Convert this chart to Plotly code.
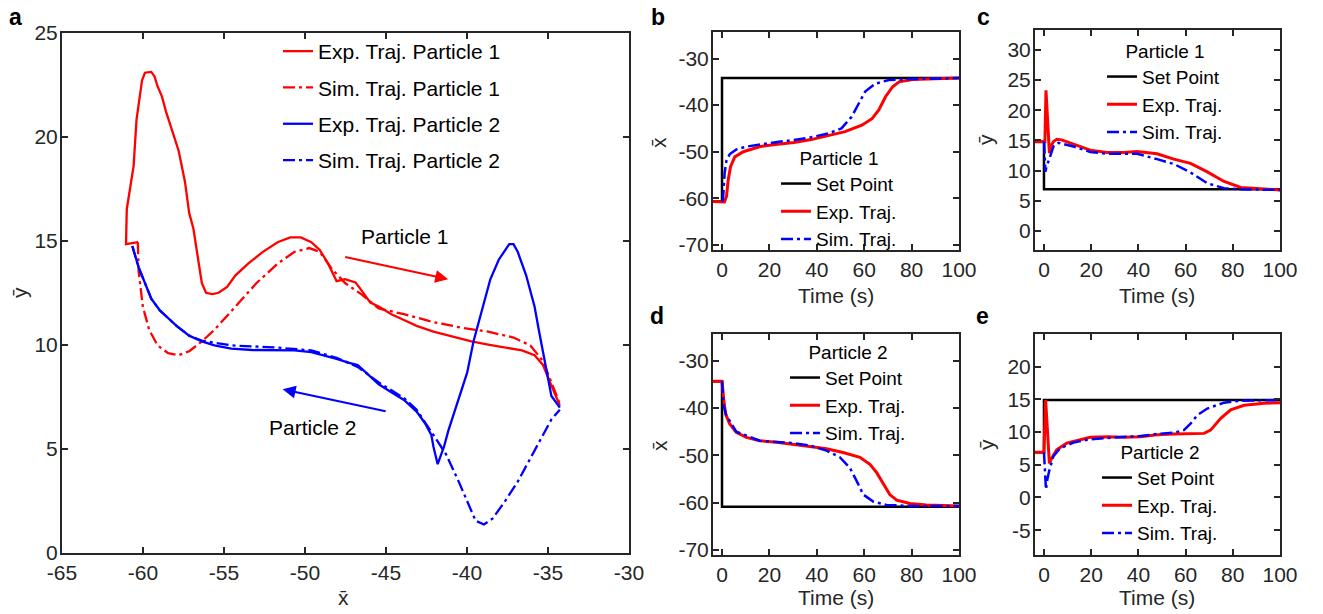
import plotly.graph_objects as go

FONT = "Liberation Sans, Arial, Helvetica, sans-serif"
W, H = 1323, 614
OFF = 8                      # the page body margin offsets the figure by 8 px
WF, HF = W - OFF, H - OFF    # figure size that fits the window
RED = "#ff0000"
BLUE = "#0000ff"
AXC = "#262626"
DASHDOT = "12px,4px,3px,4px"

# ---------------- Panel a : trajectories in the (x̄, ȳ) plane ----------------
exp_p1_x = [-60.3, -61.05, -61.0, -60.79, -60.58, -60.40, -60.06, -59.88, -59.49, -59.28, -59.10, -58.84,
            -58.58, -58.19, -57.80, -57.41, -57.15, -56.89, -56.63, -56.37, -56.11, -55.72, -55.33,
            -54.81, -54.29, -53.51, -52.60, -51.69, -50.91, -50.26, -49.61, -49.09, -48.57, -48.05,
            -47.53, -46.88, -46.49, -45.97, -45.45, -44.67, -43.89, -43.11, -42.07, -40.77, -39.73,
            -38.69, -37.65, -36.61, -35.83, -35.31, -34.92, -34.53, -34.27]
exp_p1_y = [14.95, 14.85, 16.54, 17.47, 18.60, 20.84, 22.72, 23.09, 23.13, 22.90, 22.43, 21.97,
            21.22, 20.28, 19.34, 17.85, 16.35, 15.60, 14.29, 12.98, 12.51, 12.45, 12.51,
            12.79, 13.35, 13.91, 14.48, 14.94, 15.17, 15.17, 14.94, 14.57, 13.91, 13.07,
            13.16, 13.01, 12.60, 12.04, 11.85, 11.48, 11.20, 10.92, 10.64, 10.36, 10.17,
            10.02, 9.89, 9.74, 9.51, 9.04, 8.30, 7.55, 7.08]

sim_p1_x = [-60.32, -60.27, -60.01, -59.62, -59.10, -58.45, -57.80, -57.15, -56.37, -55.59, -54.29,
            -52.99, -51.69, -50.65, -49.74, -49.09, -48.31, -47.53, -46.49, -45.45, -43.89, -42.07,
            -40.25, -38.69, -37.13, -36.09, -35.31, -34.79, -34.27]
sim_p1_y = [14.94, 13.54, 11.85, 10.73, 9.98, 9.61, 9.51, 9.70, 10.17, 10.73, 11.85,
            12.98, 13.91, 14.48, 14.66, 14.48, 13.63, 12.98, 12.42, 11.76, 11.48, 11.10,
            10.82, 10.64, 10.36, 9.98, 9.23, 8.20, 7.17]

exp_p2_x = [-60.66, -60.27, -59.88, -59.49, -58.97, -58.45, -57.93, -57.15, -56.37, -55.59, -54.55,
            -53.25, -51.95, -50.65, -49.61, -48.83, -48.05, -47.27, -46.75, -46.23, -45.45, -44.67,
            -43.89, -43.11, -42.59, -42.20, -42.07, -41.81, -41.42, -41.16, -40.77, -40.38, -39.99,
            -39.60, -39.08, -38.56, -38.04, -37.39, -37.13, -36.87, -36.35, -35.83, -35.57, -35.31,
            -35.05, -34.79, -34.27]
exp_p2_y = [14.76, 13.73, 12.98, 12.23, 11.67, 11.29, 10.92, 10.45, 10.17, 9.98, 9.83,
            9.76, 9.74, 9.74, 9.66, 9.51, 9.33, 9.14, 9.04, 8.67, 8.11, 7.73,
            7.36, 6.80, 6.24, 5.67, 5.11, 4.27, 5.11, 5.86, 6.80, 7.73, 8.67,
            10.17, 11.67, 13.16, 14.10, 14.85, 14.85, 14.48, 13.35, 11.85, 10.73, 9.61,
            8.48, 7.55, 6.99]

sim_p2_x = [-60.66, -60.27, -59.88, -59.49, -58.97, -58.45, -57.93, -57.15, -56.37, -54.55, -51.95,
            -49.61, -48.05, -46.75, -45.45, -43.89, -43.11, -42.07, -41.29, -40.51, -39.99, -39.47,
            -38.95, -38.43, -37.65, -36.87, -36.09, -35.31, -34.79, -34.27]
sim_p2_y = [14.76, 13.73, 12.98, 12.23, 11.67, 11.29, 10.92, 10.45, 10.21, 9.98, 9.89,
            9.74, 9.38, 8.95, 8.20, 7.45, 6.89, 5.67, 4.74, 3.43, 2.49, 1.55,
            1.37, 1.65, 2.49, 3.43, 4.55, 5.67, 6.42, 6.89]

# ---------------- Panel b : Particle 1, x̄ vs time ----------------
b_sp_t = [-5, 0, 0, 100]
b_sp = [-60.7, -60.7, -34.2, -34.2]
b_exp_t = [-3.8, 0, 1.0, 1.9, 2.6, 3.6, 5.4, 9, 16.1, 23.3, 30.4, 37.6, 44.7, 51.9, 59, 63.3, 66.1,
           69, 71.9, 74.7, 80.4, 87.6, 100]
b_exp = [-60.7, -60.7, -60.8, -59.6, -56.1, -53.2, -51.1, -50.0, -48.9, -48.4, -48.0, -47.4, -46.6,
         -45.7, -44.3, -42.9, -41.1, -38.2, -36.1, -35.0, -34.5, -34.4, -34.2]
b_sim_t = [0, 0.4, 1.1, 1.9, 3.3, 6.1, 10.4, 16.1, 23.3, 30.4, 37.6, 44.7, 50.4, 54.7, 57.6, 60.4,
           64.7, 70.4, 80.4, 100]
b_sim = [-60.7, -60.4, -54.6, -51.8, -50.5, -49.5, -48.9, -48.4, -47.9, -47.5, -46.9, -46.1, -45.0,
         -42.5, -39.6, -37.1, -35.4, -34.6, -34.4, -34.2]

# ---------------- Panel c : Particle 1, ȳ vs time ----------------
c_sp_t = [-5, 0, 0, 100]
c_sp = [14.8, 14.8, 6.9, 6.9]
c_exp_t = [-3.8, 0, 0.4, 0.85, 1.4, 2.3, 2.8, 4, 5.4, 7.5, 12.5, 19.6, 26.7, 33.8, 39.4, 47.9, 55,
           62.1, 69.2, 76.3, 83.4, 90.5, 100]
c_exp = [14.8, 14.8, 14.8, 23.3, 19.0, 12.9, 14.0, 14.8, 15.2, 15.1, 14.4, 13.4, 13.0, 13.0, 13.15,
         12.8, 11.9, 11.2, 9.8, 8.2, 7.2, 7.0, 6.8]
c_sim_t = [0, 0.1, 0.6, 1.1, 2.3, 4, 6.1, 12.5, 19.6, 26.7, 33.8, 39.4, 47.9, 55, 62.1, 69.2, 76.3,
           83.4, 100]
c_sim = [14.8, 14.5, 9.8, 10.7, 12.0, 14.0, 14.6, 14.0, 13.1, 12.8, 12.8, 12.8, 11.9, 11.1, 9.7, 7.9,
         7.1, 6.9, 6.8]

# ---------------- Panel d : Particle 2, x̄ vs time ----------------
d_sp_t = [-5, 0, 0, 100]
d_sp = [-34.3, -34.3, -60.9, -60.9]
d_exp_t = [-3.8, 0, 0.7, 1.5, 3.2, 6, 10.3, 15.9, 23, 30, 37, 44.1, 51.1, 58.2, 62.4, 65.2, 68, 70.8,
           73.7, 79.3, 86.3, 100]
d_exp = [-34.3, -34.3, -38.0, -41.2, -43.3, -45.1, -46.2, -46.9, -47.2, -47.6, -48.1, -48.6, -49.4,
         -50.4, -51.9, -53.6, -56.1, -58.3, -59.5, -60.2, -60.5, -60.7]
d_sim_t = [0, 0.1, 0.7, 1.8, 6, 15.9, 30, 37, 44.1, 49.7, 53.9, 56.8, 59.6, 63.8, 69.4, 79.3, 100]
d_sim = [-34.3, -35.1, -39.4, -41.5, -45.0, -46.9, -47.4, -47.9, -49.0, -50.4, -52.6, -55.4, -58.3,
         -59.8, -60.5, -60.7, -60.7]

# ---------------- Panel e : Particle 2, ȳ vs time ----------------
e_sp_t = [-5, 0, 0, 100]
e_sp = [6.9, 6.9, 14.9, 14.9]
e_exp_t = [-3.8, 0, 0.7, 1.4, 2.3, 3.3, 5.4, 9.6, 15.3, 19.6, 26.7, 33.8, 40.9, 47.9, 55, 62.1, 67.8,
           70.6, 74.9, 79.1, 84.8, 93.3, 100]
e_exp = [6.9, 6.9, 14.9, 10.8, 5.2, 6.0, 7.3, 8.3, 8.8, 9.2, 9.3, 9.2, 9.3, 9.6, 9.7, 9.7, 9.8, 10.3,
         12.1, 13.4, 14.1, 14.4, 14.5]
e_sim_t = [0, 0.6, 0.85, 1.4, 2.3, 4, 6.8, 12.5, 19.6, 26.7, 33.8, 40.9, 47.9, 55, 59.3, 62.1, 65,
           69.2, 76.3, 83.4, 100]
e_sim = [6.9, 3.7, 1.2, 2.7, 4.2, 6.3, 7.5, 8.4, 8.9, 9.1, 9.2, 9.4, 9.7, 9.9, 10.3, 11.3, 12.6,
         13.6, 14.5, 14.8, 14.9]

# ---------------- tick values ----------------
a_xticks = [-65, -60, -55, -50, -45, -40, -35, -30]
a_yticks = [0, 5, 10, 15, 20, 25]
ts_ticks = [0, 20, 40, 60, 80, 100]
bd_yticks = [-70, -60, -50, -40, -30]
c_yticks = [0, 5, 10, 15, 20, 25, 30]
e_yticks = [-5, 0, 5, 10, 15, 20]

legend_names_a = ["Exp. Traj. Particle 1", "Sim. Traj. Particle 1",
                  "Exp. Traj. Particle 2", "Sim. Traj. Particle 2"]
legend_names_ts = ["Set Point", "Exp. Traj.", "Sim. Traj."]

fig = go.Figure()

a_series = [(exp_p1_x, exp_p1_y, RED, "solid"), (sim_p1_x, sim_p1_y, RED, DASHDOT),
            (exp_p2_x, exp_p2_y, BLUE, "solid"), (sim_p2_x, sim_p2_y, BLUE, DASHDOT)]
for i, (xs, ys, col, dash) in enumerate(a_series):
    fig.add_trace(go.Scatter(x=xs, y=ys, mode="lines", name=legend_names_a[i],
                             line=dict(color=col, width=2.3, dash=dash),
                             xaxis="x", yaxis="y", legend="legend",
                             legendgroup="a%d" % i))

panels = [
    ("x2", "y2", "legend2", b_sp_t, b_sp, b_exp_t, b_exp, b_sim_t, b_sim),
    ("x3", "y3", "legend3", c_sp_t, c_sp, c_exp_t, c_exp, c_sim_t, c_sim),
    ("x4", "y4", "legend4", d_sp_t, d_sp, d_exp_t, d_exp, d_sim_t, d_sim),
    ("x5", "y5", "legend5", e_sp_t, e_sp, e_exp_t, e_exp, e_sim_t, e_sim),
]
for xa, ya, lg, spt, sp, et, ev, st, sv in panels:
    fig.add_trace(go.Scatter(x=spt, y=sp, mode="lines", name=legend_names_ts[0],
                             line=dict(color="#000000", width=2.5), xaxis=xa, yaxis=ya, legend=lg))
    fig.add_trace(go.Scatter(x=et, y=ev, mode="lines", name=legend_names_ts[1],
                             line=dict(color=RED, width=3), xaxis=xa, yaxis=ya, legend=lg))
    fig.add_trace(go.Scatter(x=st, y=sv, mode="lines", name=legend_names_ts[2],
                             line=dict(color=BLUE, width=2.5, dash=DASHDOT), xaxis=xa, yaxis=ya, legend=lg))


def px_x(p):
    return (p - OFF) / WF


def px_y(p):
    return 1 - (p - OFF) / HF


def ax_style(dom, rng, tickvals, anchor, standoff=0):
    return dict(domain=dom, range=rng, tickvals=tickvals, ticktext=[str(v) for v in tickvals],
                anchor=anchor, automargin=False,
                showline=True, linecolor=AXC, linewidth=2, mirror="ticks",
                ticks="inside", ticklen=6, tickwidth=1.5, tickcolor=AXC,
                showgrid=False, zeroline=False,
                tickfont=dict(family=FONT, size=21, color=AXC), ticklabelstandoff=standoff)


layout_axes = dict(
    xaxis=ax_style([px_x(62), px_x(629)], [-65, -30], a_xticks, "y"),
    yaxis=ax_style([px_y(553), px_y(33)], [0, 25], a_yticks, "x", -2),
    xaxis2=ax_style([px_x(713), px_x(959)], [-3.8, 100], ts_ticks, "y2"),
    yaxis2=ax_style([px_y(250), px_y(32)], [-71.1, -24.3], bd_yticks, "x2", -2),
    xaxis3=ax_style([px_x(1035), px_x(1280)], [-3.8, 100], ts_ticks, "y3"),
    yaxis3=ax_style([px_y(250), px_y(30)], [-3.15, 33.3], c_yticks, "x3", -2),
    xaxis4=ax_style([px_x(713), px_x(959)], [-3.8, 100], ts_ticks, "y4"),
    yaxis4=ax_style([px_y(555), px_y(334)], [-71.1, -24.3], bd_yticks, "x4", -2),
    xaxis5=ax_style([px_x(1035), px_x(1280)], [-3.8, 100], ts_ticks, "y5"),
    yaxis5=ax_style([px_y(555), px_y(334)], [-8.8, 25.0], e_yticks, "x5", -2),
)


def leg(left, top, size, title=None, gap=0):
    d = dict(x=px_x(left), y=px_y(top), xanchor="left", yanchor="top",
             bgcolor="rgba(0,0,0,0)", borderwidth=0,
             font=dict(family=FONT, size=size, color="#000000"), tracegroupgap=gap)
    if title:
        d["title"] = dict(text=title, side="top center", font=dict(family=FONT, size=size, color="#000000"))
    return d


annotations = []
for txt, xp, yp in [("a", 15, 17), ("b", 658, 17), ("c", 983, 17), ("d", 657, 316), ("e", 982, 316)]:
    annotations.append(dict(text="<b>%s</b>" % txt, x=px_x(xp), y=px_y(yp), xref="paper", yref="paper",
                            showarrow=False, font=dict(family=FONT, size=23, color="#000000"),
                            xanchor="center", yanchor="middle"))
XB = "x\u0304"
YB = "y\u0304"
for txt, xp, yp, ang in [(XB, 343, 597, 0), (YB, 19, 293, -90),
                         (XB, 659, 143, -90), (YB, 986, 140, -90),
                         (XB, 659, 446, -90), (YB, 986, 445, -90),
                         ("Time (s)", 836, 295, 0), ("Time (s)", 1157, 295, 0),
                         ("Time (s)", 836, 597, 0), ("Time (s)", 1157, 597, 0)]:
    annotations.append(dict(text=txt, x=px_x(xp), y=px_y(yp), xref="paper", yref="paper",
                            showarrow=False, textangle=ang,
                            font=dict(family=FONT, size=21, color=AXC),
                            xanchor="center", yanchor="middle"))
annotations += [
    dict(x=-41.16, y=13.16, ax=-47.61, ay=14.25, xref="x", yref="y", axref="x", ayref="y",
         showarrow=True, arrowhead=2, arrowsize=1.3, arrowwidth=2, arrowcolor=RED, text=""),
    dict(x=-51.38, y=7.87, ax=-44.93, ay=6.80, xref="x", yref="y", axref="x", ayref="y",
         showarrow=True, arrowhead=2, arrowsize=1.3, arrowwidth=2, arrowcolor=BLUE, text=""),
    dict(x=-43.84, y=15.22, xref="x", yref="y", text="Particle 1", showarrow=False,
         font=dict(family=FONT, size=21, color="#000000")),
    dict(x=-49.48, y=6.01, xref="x", yref="y", text="Particle 2", showarrow=False,
         font=dict(family=FONT, size=21, color="#000000")),
]

fig.update_layout(
    width=WF, height=HF, margin=dict(l=0, r=0, t=0, b=0, pad=0, autoexpand=False),
    paper_bgcolor="white", plot_bgcolor="white",
    font=dict(family=FONT, size=20, color=AXC),
    legend=leg(278, 31, 21, gap=6),
    legend2=leg(776, 140, 19, "Particle 1"),
    legend3=leg(1102, 33, 19, "Particle 1"),
    legend4=leg(785, 334, 19, "Particle 2"),
    legend5=leg(1097, 434, 19, "Particle 2"),
    annotations=annotations,
    **layout_axes,
)

fig.write_html("out.html")
